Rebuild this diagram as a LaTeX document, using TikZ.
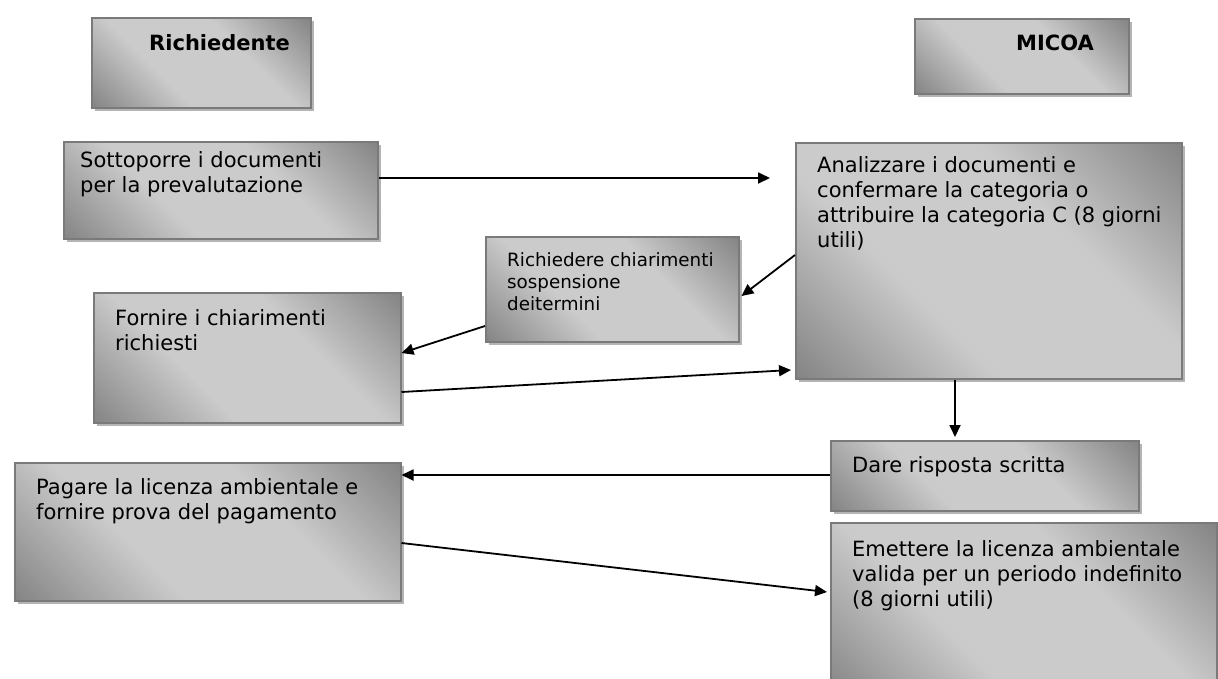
\documentclass[tikz,border=0pt]{standalone}
\usepackage{fontspec}
\setmainfont{DejaVu Sans}
\usetikzlibrary{arrows.meta,calc,shadows}
\definecolor{gdark}{HTML}{6A6A6A}
\definecolor{glight}{HTML}{CBCBCB}
\definecolor{gborder}{HTML}{7A7A7A}
\definecolor{gshadow}{HTML}{B4B4B4}
\pgfdeclareverticalshading{boxshade}{100bp}{color(0bp)=(gdark); color(6bp)=(gdark); color(38bp)=(glight); color(62bp)=(glight); color(94bp)=(gdark); color(100bp)=(gdark)}
\tikzset{
  box/.style={draw=gborder, line width=1.5pt, anchor=north west, inner sep=0pt,
    shading=boxshade, shading angle=-45,
    drop shadow={shadow xshift=3.5pt, shadow yshift=-3.5pt, fill=gshadow, opacity=1}},
  txt/.style={font=\fontsize{21}{25}\selectfont, align=left, inner sep=0pt, anchor=north west},
  smalltxt/.style={font=\fontsize{18.3}{22}\selectfont, align=left, inner sep=0pt, anchor=north west},
  headtxt/.style={font=\fontsize{21}{24}\selectfont\bfseries, inner sep=0pt, anchor=west},
  arr/.style={line width=1.8pt, -{Triangle[length=12pt,width=11pt]}}
}
\begin{document}
\begin{tikzpicture}[x=1pt,y=-1pt]
\useasboundingbox (0,0) rectangle (1218,678);
\clip (0,0) rectangle (1218,678);
% boxes
\node[box, minimum width=219pt, minimum height=90pt] (A) at (91,17) {};
\node[box, minimum width=214pt, minimum height=75pt] (B) at (914,18) {};
\node[box, minimum width=314pt, minimum height=97pt] (C) at (63,141) {};
\node[box, minimum width=386pt, minimum height=236pt] (D) at (795,142) {};
\node[box, minimum width=253pt, minimum height=105pt] (E) at (485,236) {};
\node[box, minimum width=307pt, minimum height=130pt] (F) at (93,292) {};
\node[box, minimum width=308pt, minimum height=70pt] (G) at (830,440) {};
\node[box, minimum width=386pt, minimum height=138pt] (H) at (14,462) {};
\node[box, minimum width=386pt, minimum height=175pt] (I) at (830,522) {};
% texts
\node[headtxt] (At) at (149,43) {Richiedente};
\node[headtxt] (Bt) at (1016,43) {MICOA};
\node[txt] (Ct) at (80,151.5) {Sottoporre i documenti\\per la prevalutazione};
\node[txt] (Dt) at (817,156.5) {Analizzare i documenti e\\confermare la categoria o\\attribuire la categoria C (8 giorni\\utili)};
\node[smalltxt] (Et) at (507,252) {Richiedere chiarimenti\\sospensione\\deitermini};
\node[txt] (Ft) at (115,309.5) {Fornire i chiarimenti\\richiesti};
\node[txt] (Gt) at (852,456.5) {Dare risposta scritta};
\node[txt] (Ht) at (36,478.5) {Pagare la licenza ambientale e\\fornire prova del pagamento};
\node[txt] (It) at (852,540.5) {Emettere la licenza ambientale\\valida per un periodo indefinito\\(8 giorni utili)};
% connectors
\draw[arr] ($(C.north east)+(0,37)$) -- ($(D.north west)+(-25,36)$);
\draw[arr] ($(D.north west)+(0,113)$) -- ($(E.north east)+(2,60)$);
\draw[arr] ($(E.north west)+(0,90)$) -- ($(F.north east)+(0,61)$);
\draw[arr] ($(F.north east)+(0,100)$) -- ($(D.north west)+(-4,228)$);
\draw[arr] ($(D.south west)+(160,0)$) -- ($(G.north west)+(125,-3)$);
\draw[arr] ($(G.north west)+(0,35)$) -- ($(H.north east)+(0,13)$);
\draw[arr] ($(H.north east)+(0,81)$) -- ($(I.north west)+(-3,70)$);
\end{tikzpicture}
\end{document}
